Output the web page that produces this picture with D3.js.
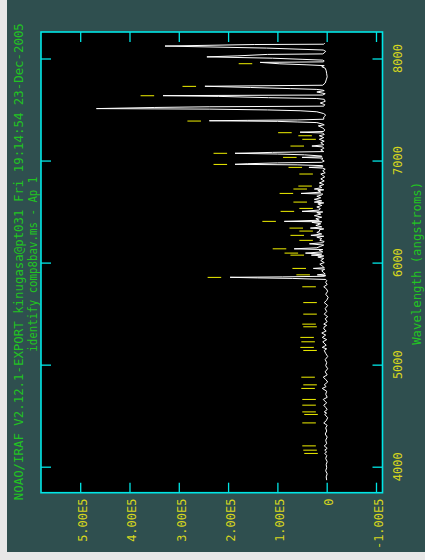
<!DOCTYPE html>
<html>
<head>
<meta charset="utf-8">
<script src="https://cdn.jsdelivr.net/npm/d3@7"></script>
<style>
  html, body { margin: 0; padding: 0; background: #e8e8e8; }
  svg { display: block; }
</style>
</head>
<body>
<div id="plotDiv"></div>
<script>
// IRAF identify plot, drawn sideways: wavelength runs up the page, flux runs to the left.

// tick values (flux is in units of 1E5)
var fluxTicks = [-1, 0, 1, 2, 3, 4, 5];
var fluxLabels = ["-1.00E5", "0", "1.00E5", "2.00E5", "3.00E5", "4.00E5", "5.00E5"];
var waveTicks = [4000, 5000, 6000, 7000, 8000];
var waveLabels = ["4000", "5000", "6000", "7000", "8000"];

var titleLine1 = "NOAO/IRAF V2.12.1-EXPORT kinugasa@pt031 Fri 19:14:54 23-Dec-2005";
var titleLine2 = "identify comp8bav.ms - Ap 1";
var waveTitle = "Wavelength (angstroms)";

// spectrum samples [wavelength, flux/1E5]
var spectrum = [
  [3868, 0.00], [3900, 0.01], [3930, -0.01], [3960, 0.02], [3990, 0.00], [4020, 0.01],
  [4050, -0.01], [4080, 0.02], [4110, 0.00], [4130, 0.04], [4145, 0.00], [4162, 0.04],
  [4180, -0.01], [4204, 0.05], [4225, 0.00], [4260, 0.02], [4290, -0.01], [4320, 0.03],
  [4350, 0.00], [4380, 0.02], [4405, -0.01], [4429, 0.06], [4450, 0.01], [4480, -0.02],
  [4512, 0.04], [4525, 0.00], [4537, 0.05], [4560, -0.01], [4580, 0.02], [4603, 0.06],
  [4625, 0.00], [4659, 0.07], [4680, -0.01], [4710, 0.02], [4740, 0.00], [4767, 0.09],
  [4785, 0.01], [4802, 0.05], [4830, -0.02], [4855, 0.02], [4877, 0.07], [4900, -0.01],
  [4930, 0.03], [4960, -0.02], [4990, 0.02], [5020, 0.00], [5050, 0.03], [5080, -0.02],
  [5110, 0.02], [5139, 0.05], [5155, 0.00], [5169, 0.09], [5190, 0.01], [5224, 0.08],
  [5245, 0.00], [5267, 0.09], [5290, 0.02], [5310, 0.10], [5330, 0.01], [5350, 0.06],
  [5371, 0.05], [5385, 0.00], [5397, 0.06], [5420, -0.01], [5450, 0.03], [5470, -0.02],
  [5495, 0.05], [5520, 0.00], [5550, 0.03], [5580, -0.02], [5608, 0.05], [5630, 0.00],
  [5660, -0.03], [5690, 0.02], [5720, -0.02], [5745, 0.01], [5763, 0.06], [5785, -0.01],
  [5805, 0.02], [5825, 0.00],
  [5835, 0.02], [5845, 0.70], [5850, 1.40], [5856, 1.96], [5860, 0.90], [5866, 0.05],
  [5872, 0.02], [5880, 0.19], [5888, 0.03], [5900, 0.06], [5920, 0.10], [5935, 0.04],
  [5943, 0.27], [5950, 0.05], [5965, 0.08], [5985, 0.14], [6000, 0.05], [6020, 0.12],
  [6040, 0.06], [6055, 0.18], [6065, 0.06], [6073, 0.31], [6083, 0.10], [6093, 0.43],
  [6105, 0.08], [6120, 0.15], [6128, 0.08], [6135, 0.66], [6145, 0.20], [6160, 0.12],
  [6172, 0.06], [6184, 0.35], [6195, 0.08], [6207, 0.05], [6218, 0.14], [6235, 0.10],
  [6250, 0.20], [6258, 0.06], [6267, 0.32], [6280, 0.10], [6295, 0.20], [6309, 0.14],
  [6322, 0.15], [6330, 0.06], [6338, 0.33], [6350, 0.10], [6365, 0.22], [6380, 0.12],
  [6395, 0.30], [6400, 0.10], [6404, 0.86], [6415, 0.15], [6430, 0.22], [6445, 0.10],
  [6460, 0.25], [6475, 0.12], [6490, 0.20], [6496, 0.08], [6502, 0.50], [6515, 0.15],
  [6531, 0.13], [6545, 0.20], [6560, 0.10], [6575, 0.18], [6585, 0.06], [6593, 0.25],
  [6605, 0.10], [6620, 0.25], [6635, 0.12], [6650, 0.20], [6663, 0.10], [6672, 0.08],
  [6678, 0.52], [6690, 0.12], [6705, 0.18], [6713, 0.06], [6721, 0.25], [6735, 0.10],
  [6750, 0.15], [6765, 0.06], [6780, 0.15], [6800, 0.05], [6820, 0.12], [6840, 0.04],
  [6855, 0.08], [6868, 0.12], [6880, 0.03], [6900, 0.08], [6915, 0.03], [6926, 0.08],
  [6933, 0.36], [6940, 0.08], [6950, 0.08], [6958, 0.60], [6963, 1.86], [6969, 1.60],
  [6977, 1.00], [6983, 0.10], [6995, 0.05], [7010, 0.10], [7024, 0.08], [7031, 0.50],
  [7038, 0.10], [7044, 0.10], [7056, 0.45], [7064, 1.00], [7071, 1.86], [7080, 1.10],
  [7088, 0.06], [7105, 0.12], [7120, 0.06], [7134, 0.08], [7142, 0.30], [7155, 0.06],
  [7175, 0.12], [7190, 0.05], [7208, 0.15], [7225, 0.06], [7243, 0.15], [7255, 0.05],
  [7270, 0.08], [7278, 0.54], [7285, 0.06], [7300, 0.04], [7320, 0.08], [7340, 0.17],
  [7350, 0.05], [7355, 0.07], [7372, 0.20], [7378, 0.60], [7384, 1.00], [7390, 2.38],
  [7394, 1.60], [7398, 0.60], [7405, 0.06], [7427, 0.06], [7445, 0.02], [7460, 0.06],
  [7478, 0.20], [7488, 0.54], [7496, 1.20], [7504, 2.37], [7509, 4.67], [7520, 3.50],
  [7527, 2.37], [7533, 0.06], [7548, 0.04], [7564, 0.13], [7580, 0.03], [7600, 0.05],
  [7608, 0.20], [7616, 1.18], [7629, 2.20], [7636, 3.32], [7642, 0.08], [7655, 0.03],
  [7672, 0.20], [7685, 0.05], [7690, 0.08], [7697, 0.20], [7705, 0.74], [7716, 1.55],
  [7728, 2.47], [7738, 0.08], [7760, 0.03], [7790, 0.01], [7820, -0.01], [7850, 0.00],
  [7880, 0.01], [7905, 0.03], [7920, 0.10], [7930, 0.05], [7938, 0.40], [7948, 0.95],
  [7962, 1.35], [7967, 0.07], [7975, 0.05], [7984, 0.08], [7992, 0.50], [8003, 1.10],
  [8016, 2.43], [8026, 1.80], [8040, 1.20], [8045, 0.08], [8055, 0.05], [8070, 0.02],
  [8083, 0.07], [8102, 1.22], [8122, 3.28], [8137, 1.47], [8140, 0.06], [8150, 0.04]
];

// identified features: wavelength and the flux level the mark sits over
var idWave = [4130, 4162, 4204, 4429, 4512, 4537, 4603, 4659, 4767, 4802,
              4877, 5139, 5169, 5224, 5267, 5371, 5397, 5495, 5608, 5763,
              5855, 5880, 5943, 6073, 6093, 6135, 6218, 6267, 6309, 6338,
              6404, 6502, 6531, 6593, 6678, 6721, 6750, 6868, 6933, 6962,
              7031, 7071, 7142, 7208, 7243, 7273, 7387, 7635, 7727, 7949];
var idPeak = [0.01, 0.03, 0.05, 0.05, 0.01, 0.05, 0.05, 0.05, 0.07, 0.03,
              0.07, 0.03, 0.09, 0.07, 0.09, 0.03, 0.05, 0.03, 0.03, 0.05,
              1.97, 0.17, 0.25, 0.29, 0.41, 0.65, 0.11, 0.29, 0.11, 0.31,
              0.86, 0.49, 0.11, 0.23, 0.51, 0.23, 0.13, 0.11, 0.33, 1.85,
              0.44, 1.85, 0.29, 0.05, 0.13, 0.54, 2.38, 3.33, 2.48, 1.34];

var WIDTH = 425, HEIGHT = 560;
var FRAME_L = 41, FRAME_R = 382.5, FRAME_T = 32, FRAME_B = 492.7;
var TICK_LEN = 10;
var MARK_GAP = 0.17, MARK_LEN = 0.275;   // flux units, mark offset above the feature
var FONT = "'DejaVu Sans Mono', 'Liberation Mono', monospace";
var CYAN = "#00e6e6", GREEN = "#22c322", YELLOW = "#d6d61e";

// flux runs right-to-left, wavelength bottom-to-top
var x = d3.scaleLinear().domain([5.795, -1.132]).range([FRAME_L, FRAME_R]);
var y = d3.scaleLinear().domain([8000, 4000]).range([58.5, 466.7]);

var svg = d3.select("#plotDiv").append("svg")
    .attr("width", WIDTH)
    .attr("height", HEIGHT);

// teal window background (light strips left and bottom are the page)
svg.append("rect")
    .attr("x", 7).attr("y", 0)
    .attr("width", WIDTH - 7).attr("height", 552)
    .attr("fill", "#2f4f4f");

svg.append("rect")
    .attr("x", FRAME_L).attr("y", FRAME_T)
    .attr("width", FRAME_R - FRAME_L).attr("height", FRAME_B - FRAME_T)
    .attr("fill", "black");

svg.append("clipPath").attr("id", "plotClip")
    .append("rect")
    .attr("x", FRAME_L).attr("y", FRAME_T)
    .attr("width", FRAME_R - FRAME_L).attr("height", FRAME_B - FRAME_T);

var plot = svg.append("g").attr("clip-path", "url(#plotClip)");

// spectrum
var line = d3.line()
    .x(function(d) { return x(d[1]); })
    .y(function(d) { return y(d[0]); });

plot.append("path")
    .datum(spectrum)
    .attr("d", line)
    .attr("fill", "none")
    .attr("stroke", "white")
    .attr("stroke-width", 1);

// feature marks
plot.selectAll("line.mark")
    .data(idWave)
    .enter()
    .append("line")
    .attr("class", "mark")
    .attr("x1", function(d, i) { return x(idPeak[i] + MARK_GAP); })
    .attr("x2", function(d, i) { return x(idPeak[i] + MARK_GAP + MARK_LEN); })
    .attr("y1", function(d) { return y(d); })
    .attr("y2", function(d) { return y(d); })
    .attr("stroke", "#f0f000")
    .attr("stroke-width", 1);

// ticks, all pointing into the frame
function styleTicks(g) {
    g.select(".domain").remove();
    g.selectAll(".tick line").attr("stroke", CYAN).attr("stroke-width", 1.3);
}

svg.append("g")
    .attr("transform", "translate(0," + FRAME_B + ")")
    .call(d3.axisTop(x).tickValues(fluxTicks).tickSize(TICK_LEN).tickFormat(""))
    .call(styleTicks);
svg.append("g")
    .attr("transform", "translate(0," + FRAME_T + ")")
    .call(d3.axisBottom(x).tickValues(fluxTicks).tickSize(TICK_LEN).tickFormat(""))
    .call(styleTicks);
svg.append("g")
    .attr("transform", "translate(" + FRAME_L + ",0)")
    .call(d3.axisRight(y).tickValues(waveTicks).tickSize(TICK_LEN).tickFormat(""))
    .call(styleTicks);
svg.append("g")
    .attr("transform", "translate(" + FRAME_R + ",0)")
    .call(d3.axisLeft(y).tickValues(waveTicks).tickSize(TICK_LEN).tickFormat(""))
    .call(styleTicks);

// frame on top of everything
svg.append("rect")
    .attr("x", FRAME_L).attr("y", FRAME_T)
    .attr("width", FRAME_R - FRAME_L).attr("height", FRAME_B - FRAME_T)
    .attr("fill", "none")
    .attr("stroke", CYAN)
    .attr("stroke-width", 1.6);

// rotated text helper: baseline at bx, running upward
function vtext(bx, by, str, anchor, size, color, len) {
    var t = svg.append("text")
        .attr("x", bx).attr("y", by)
        .attr("transform", "rotate(-90," + bx + "," + by + ")")
        .attr("text-anchor", anchor)
        .attr("font-family", FONT)
        .attr("font-size", size)
        .attr("fill", color)
        .text(str);
    if (len) t.attr("textLength", len).attr("lengthAdjust", "spacingAndGlyphs");
    return t;
}

// flux labels under the frame
fluxTicks.forEach(function(v, i) {
    vtext(x(v) + 6.8, 498.5, fluxLabels[i], "end", 12, YELLOW);
});

// wavelength labels right of the frame
waveTicks.forEach(function(v, i) {
    vtext(401.7, y(v), waveLabels[i], "middle", 12, YELLOW);
});

vtext(421.5, 263.3, waveTitle, "middle", 11.5, GREEN, 163);
vtext(23.3, 261.7, titleLine1, "middle", 12.5, GREEN, 477);
vtext(36.7, 264.2, titleLine2, "middle", 11.5, GREEN, 175);
</script>
</body>
</html>
